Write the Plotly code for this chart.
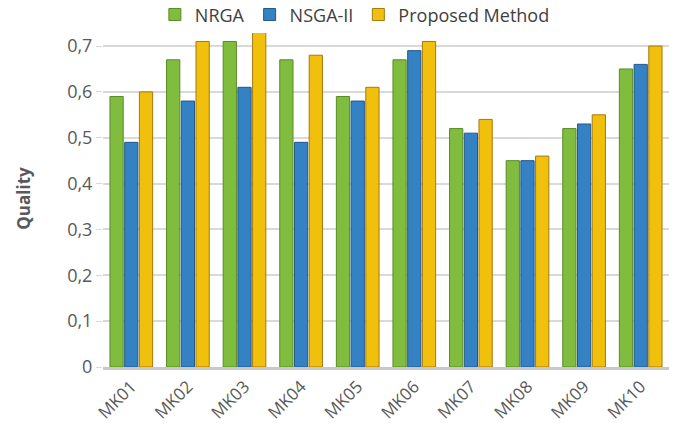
import plotly.graph_objects as go

instances = ["MK01", "MK02", "MK03", "MK04", "MK05", "MK06", "MK07", "MK08", "MK09", "MK10"]
nrga = [0.59, 0.67, 0.71, 0.67, 0.59, 0.67, 0.52, 0.45, 0.52, 0.65]
nsga2 = [0.49, 0.58, 0.61, 0.49, 0.58, 0.69, 0.51, 0.45, 0.53, 0.66]
proposed = [0.60, 0.71, 0.73, 0.68, 0.61, 0.71, 0.54, 0.46, 0.55, 0.70]

y_ticks = [0, 0.1, 0.2, 0.3, 0.4, 0.5, 0.6, 0.7]
y_tick_text = ["0", "0,1", "0,2", "0,3", "0,4", "0,5", "0,6", "0,7"]

series = [
    ("NRGA", nrga, "#80bd3e", "#5a8a26"),
    ("NSGA-II", nsga2, "#3482c4", "#22578a"),
    ("Proposed Method", proposed, "#f0c00c", "#a8780e"),
]

fig = go.Figure()
for name, vals, fill, edge in series:
    fig.add_trace(go.Bar(
        name=name, x=instances, y=vals,
        marker=dict(color=fill, line=dict(color=edge, width=1)),
    ))

font_family = "Open Sans, Liberation Sans, sans-serif"
fig.update_layout(
    width=673, height=432,
    margin=dict(l=103, r=4, t=30, b=65, autoexpand=False),
    paper_bgcolor="white", plot_bgcolor="white",
    barmode="group", bargap=0.22, bargroupgap=0.1,
    font=dict(family=font_family, color="#595959", size=18),
    legend=dict(orientation="h", x=0.445, xanchor="center", y=1.045, yanchor="middle",
                font=dict(size=18, color="#404040"),
                traceorder="normal", itemwidth=30),
    xaxis=dict(tickangle=-45, showline=True, linecolor="#c8c8c8", linewidth=3,
               tickfont=dict(size=17, color="#595959")),
    yaxis=dict(range=[0, 0.735], tickvals=y_ticks, ticktext=y_tick_text,
               showgrid=True, gridcolor="#d9d9d9", gridwidth=1.5,
               ticks="outside", ticklen=6, tickcolor="#d9d9d9",
               zeroline=False,
               tickfont=dict(size=18, color="#595959"),
               title=dict(text="<b>Quality</b>", font=dict(size=17, color="#595959"),
                          standoff=32)),
)

fig.write_html("out.html")
